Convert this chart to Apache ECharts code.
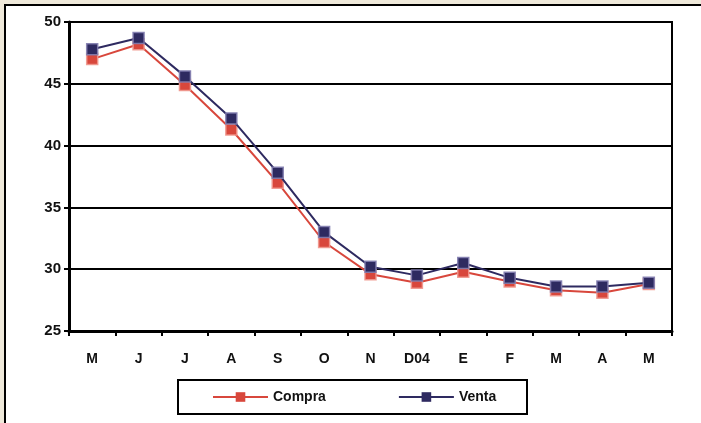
<!DOCTYPE html>
<html><head><meta charset="utf-8">
<script src="https://cdn.jsdelivr.net/npm/echarts@6/dist/echarts.min.js"></script>
<style>html,body{margin:0;padding:0;background:#efe9da;}#c{width:701px;height:423px;}</style>
</head><body><div id="c"></div>
<script>
const categories = ['M','J','J','A','S','O','N','D04','E','F','M','A','M'];
const compra = [47.0, 48.2, 44.9, 41.3, 37.0, 32.2, 29.6, 28.9, 29.8, 29.0, 28.3, 28.1, 28.8];
const venta  = [47.8, 48.7, 45.6, 42.2, 37.8, 33.0, 30.2, 29.5, 30.5, 29.3, 28.6, 28.6, 28.9];
const yTicks = [25, 30, 35, 40, 45, 50];

const chart = echarts.init(document.getElementById('c'), null, {renderer:'canvas'});
const font = 'Liberation Sans, Arial, sans-serif';
chart.setOption({
  backgroundColor: '#efe9da',
  animation: false,
  graphic: [
    {type:'rect', z:-10, shape:{x:5, y:5, width:800, height:800}, style:{fill:'#ffffff', stroke:'#000', lineWidth:2}},
    {type:'rect', z:-5, shape:{x:178, y:380, width:349, height:34}, style:{fill:'#ffffff', stroke:'#000', lineWidth:2}}
  ],
  grid: {left:69, right:29, top:22, bottom:92, show:true, borderColor:'#000', borderWidth:2, backgroundColor:'transparent'},
  legend: {
    left: 212, top: 390, itemWidth: 55, itemHeight: 12, itemGap: 72, padding: 0,
    itemStyle: {borderWidth: 0},
    textStyle: {fontFamily: font, fontWeight:'bold', fontSize:14, color:'#111'},
    data: ['Compra','Venta']
  },
  xAxis: {
    type:'category', data: categories, boundaryGap:true,
    axisLine:{lineStyle:{color:'#000', width:3}},
    axisTick:{show:true, length:5, lineStyle:{color:'#000', width:2}, alignWithLabel:false},
    axisLabel:{fontFamily:font, fontWeight:'bold', fontSize:14, color:'#111', margin:21}
  },
  yAxis: {
    type:'value', min: yTicks[0], max: yTicks[yTicks.length-1], interval: 5,
    axisLine:{show:true, lineStyle:{color:'#000', width:3}},
    axisTick:{show:true, length:5, lineStyle:{color:'#000', width:2}},
    axisLabel:{fontFamily:font, fontWeight:'bold', fontSize:15, color:'#111', margin:8},
    splitLine:{lineStyle:{color:'#000', width:2}}
  },
  series: [
    {name:'Compra', type:'line', data: compra, symbol:'rect', symbolSize:11,
     lineStyle:{color:'#d8473c', width:2},
     itemStyle:{color:'#d8473c', borderColor:'rgba(240,150,140,0.9)', borderWidth:1.5}, z:2},
    {name:'Venta', type:'line', data: venta, symbol:'rect', symbolSize:11,
     lineStyle:{color:'#2e2a60', width:2},
     itemStyle:{color:'#2e2a60', borderColor:'rgba(130,125,175,0.9)', borderWidth:1.5}, z:3}
  ]
});
</script></body></html>
